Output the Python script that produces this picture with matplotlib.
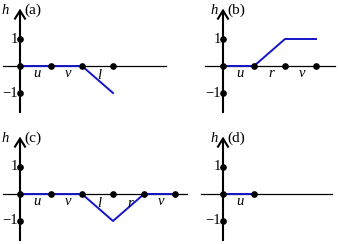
import matplotlib
matplotlib.use("Agg")
import matplotlib.pyplot as plt

plt.rcParams['font.family'] = ['Liberation Serif', 'DejaVu Serif']

# panel data: blue path of h, dots on the axis, segment labels
a_x = [0, 1, 2, 3]
a_h = [0, 0, 0, -1]
a_labels = ['u', 'v', 'l']

b_x = [0, 1, 2, 3]
b_h = [0, 0, 1, 1]
b_labels = ['u', 'r', 'v']

c_x = [0, 1, 2, 3, 4, 5]
c_h = [0, 0, 0, -1, 0, 0]
c_labels = ['u', 'v', 'l', 'r', 'v']

d_x = [0, 1]
d_h = [0, 0]
d_labels = ['u']

yticks = [1, -1]
ytick_labels = ['1', '\u22121']

BLUE = '#1414c8'
W, H = 338, 244
UX, UY = 31.0, 27.0   # pixels per unit

fig = plt.figure(figsize=(W / 100, H / 100), dpi=100)

# (name, xs, hs, labels, axis pixel x, axis pixel y, axis extent, h offset)
panels = [
    ('(a)', a_x, a_h, a_labels, 20, 66, (-0.55, 4.7), -0.48),
    ('(b)', b_x, b_h, b_labels, 223, 66, (-0.58, 3.6), -0.3),
    ('(c)', c_x, c_h, c_labels, 20, 194, (-0.55, 5.4), -0.48),
    ('(d)', d_x, d_h, d_labels, 223, 194, (-0.71, 3.5), -0.3),
]

for name, xs, hs, labels, ox, oy, (x0, x1), hx in panels:
    ax = fig.add_axes([0, 0, 1, 1])
    ax.set_xlim(-ox / UX, (W - ox) / UX)
    ax.set_ylim(-(H - oy) / UY, oy / UY)
    ax.axis('off')

    # axes
    ax.plot([x0, x1], [0, 0], color='black', lw=0.9, zorder=2)
    ax.plot([0, 0], [-1.7, 2.05], color='black', lw=1.5, zorder=2)
    ax.plot([-5 / UX, 0, 5 / UX], [2.05 - 8 / UY, 2.05, 2.05 - 8 / UY],
            color='black', lw=1.5, solid_joinstyle='miter', zorder=2)

    # h path
    ax.plot(xs, hs, color=BLUE, lw=1.4, zorder=3)

    # dots
    ax.plot(xs, [0] * len(xs), 'o', color='black', ms=3.8, zorder=4)
    ax.plot([0, 0], yticks, 'o', color='black', ms=3.8, zorder=4)

    for yv, lab in zip(yticks, ytick_labels):
        ax.text(-0.06, yv, lab, ha='right', va='center', fontsize=10.5)

    for i, lab in enumerate(labels):
        ly = -0.36 if min(hs[i], hs[i + 1]) < 0 else -0.28
        ax.text(xs[i] + 0.55, ly, lab, ha='center', va='center',
                fontsize=10.5, style='italic')

    ax.text(hx, 2.07, 'h', ha='center', va='center', fontsize=10.5, style='italic')
    ax.text(0.15, 2.07, name, ha='left', va='center', fontsize=11)

fig.savefig('out.png', dpi=100)
